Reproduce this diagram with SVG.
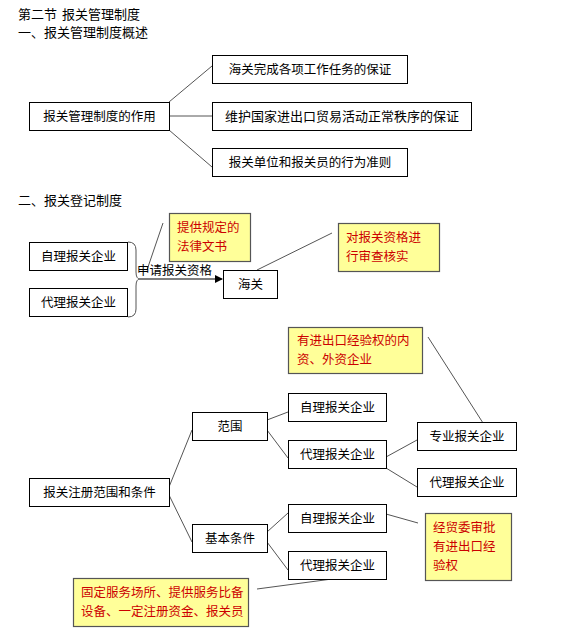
<svg xmlns="http://www.w3.org/2000/svg" width="582" height="639" viewBox="0 0 582 639">
<defs>
<marker id="arr" markerWidth="8" markerHeight="8" refX="7" refY="4" orient="auto" markerUnits="userSpaceOnUse"><path d="M0,0 L8,4 L0,8 Z" fill="#000"/></marker>
<style>
text{font-family:"Noto Sans CJK SC","Noto Sans",sans-serif;font-size:12.5px;fill:#000}
.c{text-anchor:middle}
.box{fill:#fff;stroke:#000;stroke-width:1}
.note{fill:#ffff99;stroke:#555;stroke-width:1.2}
.red{fill:#cc0000}
.ln{stroke:#555;stroke-width:1;fill:none}
</style>
</defs>
<rect width="582" height="639" fill="#fff"/>
<text x="18" y="19" style="font-size:13px">第二节<tspan x="62">报关管理制度</tspan></text>
<text x="18" y="37" style="font-size:13px">一、报关管理制度概述</text>
<text x="18" y="205" style="font-size:13px">二、报关登记制度</text>

<g id="connectors">
<line class="ln" x1="169" y1="102" x2="212" y2="66"/>
<line class="ln" x1="169" y1="116" x2="212" y2="116"/>
<line class="ln" x1="169" y1="130" x2="212" y2="167"/>
<path class="ln" d="M128,242 Q136,242 136,250 L136,272 Q136,279 140,279 Q136,279 136,286 L136,309 Q136,317 128,317"/>
<line x1="140" y1="279" x2="222" y2="279" stroke="#000" stroke-width="1.2" marker-end="url(#arr)"/>
<line class="ln" x1="147" y1="270" x2="163" y2="223" stroke="#000"/>
<line class="ln" x1="257" y1="270" x2="332" y2="233"/>
<line class="ln" x1="428" y1="337" x2="483" y2="423"/>
<line class="ln" x1="169" y1="487" x2="192" y2="430"/>
<line class="ln" x1="169" y1="495" x2="192" y2="542"/>
<line class="ln" x1="267" y1="420" x2="288" y2="412"/>
<line class="ln" x1="267" y1="430" x2="288" y2="458"/>
<line class="ln" x1="386" y1="457" x2="417" y2="440"/>
<line class="ln" x1="386" y1="468" x2="417" y2="487"/>
<line class="ln" x1="267" y1="532" x2="288" y2="513"/>
<line class="ln" x1="267" y1="542" x2="288" y2="570"/>
<line class="ln" x1="386" y1="514" x2="418" y2="523"/>
<line class="ln" x1="257" y1="589" x2="332" y2="579"/>
</g>

<g id="n-role"><rect class="box" x="29.5" y="102.5" width="140" height="28"/><text class="c" x="99.5" y="121">报关管理制度的作用</text></g>
<g id="n-r1"><rect class="box" x="212.5" y="55.5" width="195" height="28"/><text class="c" x="310" y="74">海关完成各项工作任务的保证</text></g>
<g id="n-r2"><rect class="box" x="212.5" y="102.5" width="259" height="28"/><text class="c" x="342" y="121" style="font-size:13px">维护国家进出口贸易活动正常秩序的保证</text></g>
<g id="n-r3"><rect class="box" x="212.5" y="148.5" width="195" height="28"/><text class="c" x="310" y="167">报关单位和报关员的行为准则</text></g>

<g id="n-self"><rect class="box" x="29.5" y="242.5" width="98" height="28"/><text class="c" x="78.5" y="261">自理报关企业</text></g>
<g id="n-agent"><rect class="box" x="29.5" y="288.5" width="98" height="28"/><text class="c" x="78.5" y="307">代理报关企业</text></g>
<text x="137" y="275">申请报关资格</text>
<g id="n-customs"><rect class="box" x="223.5" y="270.5" width="54" height="28"/><text class="c" x="250.5" y="289">海关</text></g>
<g id="note-docs"><rect class="note" x="169.5" y="213.5" width="81" height="48"/><text class="red" x="177" y="232">提供规定的</text><text class="red" x="177" y="251">法律文书</text></g>
<g id="note-review"><rect class="note" x="338.5" y="223.5" width="101" height="48"/><text class="red" x="346" y="242">对报关资格进</text><text class="red" x="346" y="261">行审查核实</text></g>

<g id="note-inner"><rect class="note" x="288.5" y="327.5" width="134" height="46"/><text class="red" x="297" y="345">有进出口经验权的内</text><text class="red" x="297" y="364">资、外资企业</text></g>

<g id="n-reg"><rect class="box" x="29.5" y="478.5" width="140" height="28"/><text class="c" x="99.5" y="497">报关注册范围和条件</text></g>
<g id="n-scope"><rect class="box" x="192.5" y="412.5" width="75" height="28"/><text class="c" x="230" y="431">范围</text></g>
<g id="n-s-self"><rect class="box" x="288.5" y="393.5" width="98" height="28"/><text class="c" x="337.5" y="412">自理报关企业</text></g>
<g id="n-s-agent"><rect class="box" x="288.5" y="440.5" width="98" height="28"/><text class="c" x="337.5" y="459">代理报关企业</text></g>
<g id="n-pro"><rect class="box" x="417.5" y="422.5" width="99" height="28"/><text class="c" x="467" y="441">专业报关企业</text></g>
<g id="n-agent2"><rect class="box" x="417.5" y="468.5" width="99" height="28"/><text class="c" x="467" y="487">代理报关企业</text></g>
<g id="n-basic"><rect class="box" x="192.5" y="524.5" width="75" height="28"/><text class="c" x="230" y="543">基本条件</text></g>
<g id="n-b-self"><rect class="box" x="288.5" y="504.5" width="98" height="28"/><text class="c" x="337.5" y="523">自理报关企业</text></g>
<g id="n-b-agent"><rect class="box" x="288.5" y="551.5" width="98" height="28"/><text class="c" x="337.5" y="570">代理报关企业</text></g>
<g id="note-trade"><rect class="note" x="425.5" y="513.5" width="86" height="67"/><text class="red" x="433" y="532">经贸委审批</text><text class="red" x="433" y="551">有进出口经</text><text class="red" x="433" y="570">验权</text></g>
<g id="note-fixed"><rect class="note" x="73.5" y="578.5" width="175" height="48"/><text class="red" x="81" y="597">固定服务场所、提供服务比备</text><text class="red" x="81" y="616">设备、一定注册资金、报关员</text></g>
</svg>
